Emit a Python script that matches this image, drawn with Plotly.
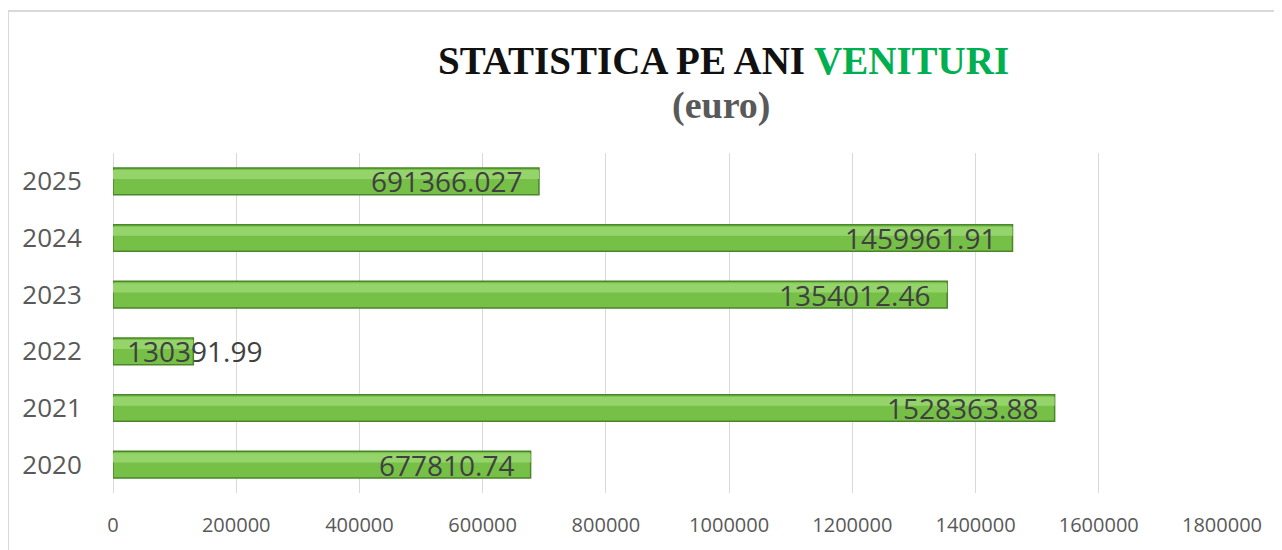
import plotly.graph_objects as go

years = ["2020", "2021", "2022", "2023", "2024", "2025"]
values = [677810.74, 1528363.88, 130391.99, 1354012.46, 1459961.91, 691366.027]
labels = ["677810.74", "1528363.88", "130391.99", "1354012.46", "1459961.91", "691366.027"]
x_ticks = [0, 200000, 400000, 600000, 800000, 1000000, 1200000, 1400000, 1600000, 1800000]

W, H = 1282, 550
OFF = 8  # page body margin
L, R, T, B = 105, 68, 145, 65
PW, PH = W - L - R, H - T - B


def px(xp):
    return (xp - OFF - L) / PW


def py(yp):
    return (H - (yp - OFF) - B) / PH


pos = list(range(len(years)))

fig = go.Figure()
fig.add_trace(go.Bar(
    y=pos, x=values, orientation="h", width=0.47,
    marker=dict(color="#76C048", line=dict(color="#4A8529", width=1.5)),
    hoverinfo="x",
))
# lighter upper sheen of the bars
fig.add_trace(go.Bar(
    y=pos, x=values, orientation="h", width=0.16, offset=0.04,
    marker=dict(color="#95D46B", line=dict(width=0)),
    hoverinfo="skip",
))
fig.update_layout(barmode="overlay")

# data labels
for p, v, t in zip(pos, values, labels):
    small = v < 300000
    fig.add_annotation(
        x=0 if small else v, y=p, xref="x", yref="y",
        text=t, showarrow=False,
        xanchor="left" if small else "right",
        xshift=12 if small else -15,
        font=dict(family="Open Sans", size=28, color="#404040"),
    )

fig.add_annotation(
    x=px(723), y=py(60), xref="paper", yref="paper",
    text="<b>STATISTICA PE ANI <span style='color:#00B050'>VENITURI</span></b>",
    showarrow=False, xanchor="center", yanchor="middle",
    font=dict(family="Liberation Serif", size=39, color="#111111"),
)
fig.add_annotation(
    x=px(721), y=py(105), xref="paper", yref="paper",
    text="<b>(euro)</b>",
    showarrow=False, xanchor="center", yanchor="middle",
    font=dict(family="Liberation Serif", size=38, color="#595959"),
)

# chart border
fig.add_shape(type="rect", xref="paper", yref="paper",
              x0=px(8), x1=px(1320), y0=py(620), y1=py(11),
              line=dict(color="#D9D9D9", width=2), fillcolor="rgba(0,0,0,0)", layer="below")

fig.update_layout(
    width=W, height=H,
    margin=dict(l=L, r=R, t=T, b=B, autoexpand=False),
    paper_bgcolor="white", plot_bgcolor="white",
    showlegend=False,
    xaxis=dict(range=[0, 1800000], tickvals=x_ticks, ticktext=[str(v) for v in x_ticks],
               showgrid=True, gridcolor="#D9D9D9", gridwidth=1,
               zeroline=True, zerolinecolor="#D9D9D9", zerolinewidth=1,
               showline=False, ticks="", ticklen=0,
               tickfont=dict(family="Open Sans", size=20, color="#595959"),
               ticklabelstandoff=18, fixedrange=True),
    yaxis=dict(range=[-0.5, len(years) - 0.5], tickvals=pos, ticktext=years,
               showgrid=False, showline=False, zeroline=False,
               ticks="outside", ticklen=25, tickcolor="rgba(0,0,0,0)",
               tickfont=dict(family="Open Sans", size=26, color="#595959"),
               fixedrange=True),
)

fig.write_html("out.html")
